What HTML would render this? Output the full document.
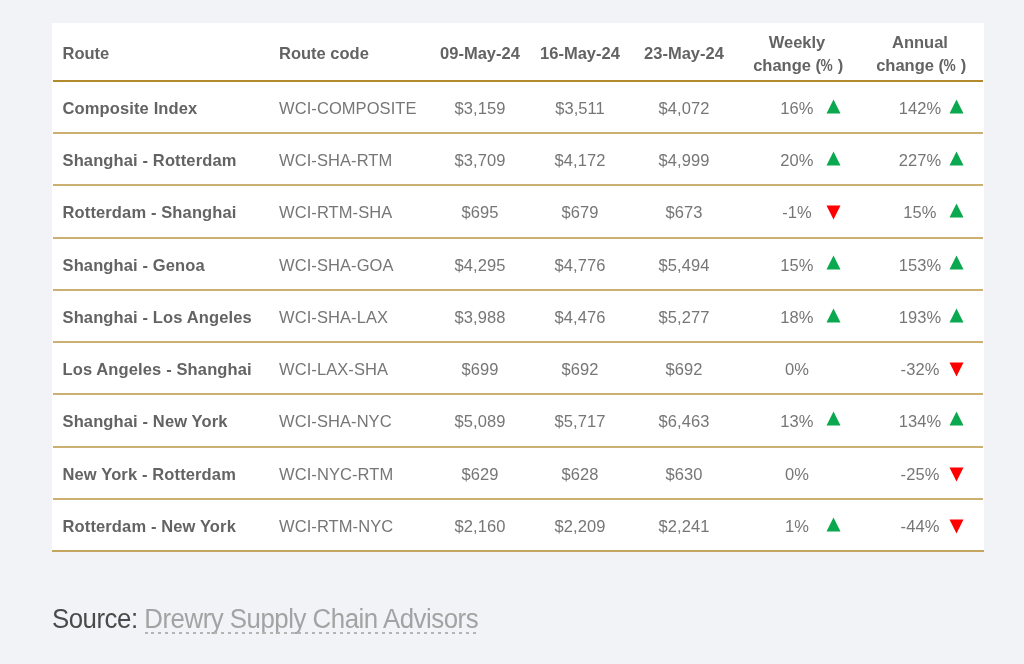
<!DOCTYPE html>
<html><head><meta charset="utf-8"><style>
html,body{margin:0;padding:0;}
body{width:1024px;height:664px;background:#f2f3f7;position:relative;overflow:hidden;font-family:"Liberation Sans",sans-serif;}
.box{position:absolute;left:52px;top:23px;width:932px;height:529px;background:#fff;}
.hl{position:absolute;left:53px;width:930px;height:2px;background:#b38a2b;}
.rl{position:absolute;left:53px;width:930px;height:2px;background:#cbb072;}
.bl{position:absolute;left:52px;width:932px;height:2px;background:#c5a460;}
.h{position:absolute;font-weight:bold;font-size:16.5px;line-height:20px;color:#636363;white-space:nowrap;}
.n{position:absolute;font-weight:bold;font-size:16.5px;line-height:20px;color:#636363;white-space:nowrap;letter-spacing:0.13px;}
.d{position:absolute;font-size:16.5px;line-height:20px;color:#767676;white-space:nowrap;letter-spacing:0.08px;}
.c{width:200px;text-align:center;}
.t{position:absolute;}
.src{position:absolute;left:52px;top:602.7px;font-size:27px;line-height:32px;color:#4a4a4a;letter-spacing:-0.5px;white-space:nowrap;transform:scaleX(0.956);transform-origin:0 0;}
.src span{color:#a3a3a3;}
.ul{position:absolute;left:145px;top:632px;width:335px;height:2px;background:repeating-linear-gradient(90deg,#b4b4b4 0 3px,transparent 3px 7px);background-position:6px 0;}
</style></head><body>
<div id="w" style="position:absolute;left:0;top:0;width:1024px;height:664px;will-change:transform">
<div class="box"></div>

<div class="h" style="left:62.5px;top:43.48px">Route</div>
<div class="h" style="left:279px;top:43.48px">Route code</div>
<div class="h c" style="left:380px;top:43.48px">09-May-24</div>
<div class="h c" style="left:480px;top:43.48px">16-May-24</div>
<div class="h c" style="left:584px;top:43.48px">23-May-24</div>
<div class="h c" style="left:697px;top:31.28px;line-height:22.5px">Weekly<br><span style="position:relative;left:1.2px">change (<span style="display:inline-block;transform:scaleX(.83);transform-origin:100% 50%;margin-left:-2.6px">%</span> )</span></div>
<div class="h c" style="left:820px;top:31.28px;line-height:22.5px">Annual<br><span style="position:relative;left:1.2px">change (<span style="display:inline-block;transform:scaleX(.83);transform-origin:100% 50%;margin-left:-2.6px">%</span> )</span></div>
<div class="hl" style="top:80px"></div>
<div class="n" style="left:62.5px;top:98.08px">Composite Index</div>
<div class="d" style="left:279px;top:98.08px">WCI-COMPOSITE</div>
<div class="d c" style="left:380px;top:98.08px">$3,159</div>
<div class="d c" style="left:480px;top:98.08px">$3,511</div>
<div class="d c" style="left:584px;top:98.08px">$4,072</div>
<div class="d c" style="left:697px;top:98.08px">16%</div>
<div class="d c" style="left:820px;top:98.08px">142%</div>
<svg class="t" style="left:826px;top:98.8px" width="15" height="15" viewBox="0 0 15 15"><path d="M7.5 0.5 L14.5 14.5 L0.5 14.5 Z" fill="#0aa84f"/></svg>
<svg class="t" style="left:949px;top:98.8px" width="15" height="15" viewBox="0 0 15 15"><path d="M7.5 0.5 L14.5 14.5 L0.5 14.5 Z" fill="#0aa84f"/></svg>
<div class="rl" style="top:132.22px"></div>
<div class="n" style="left:62.5px;top:150.18px">Shanghai - Rotterdam</div>
<div class="d" style="left:279px;top:150.18px">WCI-SHA-RTM</div>
<div class="d c" style="left:380px;top:150.18px">$3,709</div>
<div class="d c" style="left:480px;top:150.18px">$4,172</div>
<div class="d c" style="left:584px;top:150.18px">$4,999</div>
<div class="d c" style="left:697px;top:150.18px">20%</div>
<div class="d c" style="left:820px;top:150.18px">227%</div>
<svg class="t" style="left:826px;top:150.9px" width="15" height="15" viewBox="0 0 15 15"><path d="M7.5 0.5 L14.5 14.5 L0.5 14.5 Z" fill="#0aa84f"/></svg>
<svg class="t" style="left:949px;top:150.9px" width="15" height="15" viewBox="0 0 15 15"><path d="M7.5 0.5 L14.5 14.5 L0.5 14.5 Z" fill="#0aa84f"/></svg>
<div class="rl" style="top:184.44px"></div>
<div class="n" style="left:62.5px;top:202.28px">Rotterdam - Shanghai</div>
<div class="d" style="left:279px;top:202.28px">WCI-RTM-SHA</div>
<div class="d c" style="left:380px;top:202.28px">$695</div>
<div class="d c" style="left:480px;top:202.28px">$679</div>
<div class="d c" style="left:584px;top:202.28px">$673</div>
<div class="d c" style="left:697px;top:202.28px">-1%</div>
<div class="d c" style="left:820px;top:202.28px">15%</div>
<svg class="t" style="left:826px;top:205.1px" width="15" height="15" viewBox="0 0 15 15"><path d="M0.5 0.5 L14.5 0.5 L7.5 14.5 Z" fill="#ff0000"/></svg>
<svg class="t" style="left:949px;top:203.0px" width="15" height="15" viewBox="0 0 15 15"><path d="M7.5 0.5 L14.5 14.5 L0.5 14.5 Z" fill="#0aa84f"/></svg>
<div class="rl" style="top:236.66px"></div>
<div class="n" style="left:62.5px;top:254.53px">Shanghai - Genoa</div>
<div class="d" style="left:279px;top:254.53px">WCI-SHA-GOA</div>
<div class="d c" style="left:380px;top:254.53px">$4,295</div>
<div class="d c" style="left:480px;top:254.53px">$4,776</div>
<div class="d c" style="left:584px;top:254.53px">$5,494</div>
<div class="d c" style="left:697px;top:254.53px">15%</div>
<div class="d c" style="left:820px;top:254.53px">153%</div>
<svg class="t" style="left:826px;top:255.25px" width="15" height="15" viewBox="0 0 15 15"><path d="M7.5 0.5 L14.5 14.5 L0.5 14.5 Z" fill="#0aa84f"/></svg>
<svg class="t" style="left:949px;top:255.25px" width="15" height="15" viewBox="0 0 15 15"><path d="M7.5 0.5 L14.5 14.5 L0.5 14.5 Z" fill="#0aa84f"/></svg>
<div class="rl" style="top:288.88px"></div>
<div class="n" style="left:62.5px;top:306.88px">Shanghai - Los Angeles</div>
<div class="d" style="left:279px;top:306.88px">WCI-SHA-LAX</div>
<div class="d c" style="left:380px;top:306.88px">$3,988</div>
<div class="d c" style="left:480px;top:306.88px">$4,476</div>
<div class="d c" style="left:584px;top:306.88px">$5,277</div>
<div class="d c" style="left:697px;top:306.88px">18%</div>
<div class="d c" style="left:820px;top:306.88px">193%</div>
<svg class="t" style="left:826px;top:307.6px" width="15" height="15" viewBox="0 0 15 15"><path d="M7.5 0.5 L14.5 14.5 L0.5 14.5 Z" fill="#0aa84f"/></svg>
<svg class="t" style="left:949px;top:307.6px" width="15" height="15" viewBox="0 0 15 15"><path d="M7.5 0.5 L14.5 14.5 L0.5 14.5 Z" fill="#0aa84f"/></svg>
<div class="rl" style="top:341.10px"></div>
<div class="n" style="left:62.5px;top:358.78px">Los Angeles - Shanghai</div>
<div class="d" style="left:279px;top:358.78px">WCI-LAX-SHA</div>
<div class="d c" style="left:380px;top:358.78px">$699</div>
<div class="d c" style="left:480px;top:358.78px">$692</div>
<div class="d c" style="left:584px;top:358.78px">$692</div>
<div class="d c" style="left:697px;top:358.78px">0%</div>
<div class="d c" style="left:820px;top:358.78px">-32%</div>
<svg class="t" style="left:949px;top:361.6px" width="15" height="15" viewBox="0 0 15 15"><path d="M0.5 0.5 L14.5 0.5 L7.5 14.5 Z" fill="#ff0000"/></svg>
<div class="rl" style="top:393.32px"></div>
<div class="n" style="left:62.5px;top:410.68px">Shanghai - New York</div>
<div class="d" style="left:279px;top:410.68px">WCI-SHA-NYC</div>
<div class="d c" style="left:380px;top:410.68px">$5,089</div>
<div class="d c" style="left:480px;top:410.68px">$5,717</div>
<div class="d c" style="left:584px;top:410.68px">$6,463</div>
<div class="d c" style="left:697px;top:410.68px">13%</div>
<div class="d c" style="left:820px;top:410.68px">134%</div>
<svg class="t" style="left:826px;top:411.4px" width="15" height="15" viewBox="0 0 15 15"><path d="M7.5 0.5 L14.5 14.5 L0.5 14.5 Z" fill="#0aa84f"/></svg>
<svg class="t" style="left:949px;top:411.4px" width="15" height="15" viewBox="0 0 15 15"><path d="M7.5 0.5 L14.5 14.5 L0.5 14.5 Z" fill="#0aa84f"/></svg>
<div class="rl" style="top:445.54px"></div>
<div class="n" style="left:62.5px;top:463.98px">New York - Rotterdam</div>
<div class="d" style="left:279px;top:463.98px">WCI-NYC-RTM</div>
<div class="d c" style="left:380px;top:463.98px">$629</div>
<div class="d c" style="left:480px;top:463.98px">$628</div>
<div class="d c" style="left:584px;top:463.98px">$630</div>
<div class="d c" style="left:697px;top:463.98px">0%</div>
<div class="d c" style="left:820px;top:463.98px">-25%</div>
<svg class="t" style="left:949px;top:466.8px" width="15" height="15" viewBox="0 0 15 15"><path d="M0.5 0.5 L14.5 0.5 L7.5 14.5 Z" fill="#ff0000"/></svg>
<div class="rl" style="top:497.76px"></div>
<div class="n" style="left:62.5px;top:516.28px">Rotterdam - New York</div>
<div class="d" style="left:279px;top:516.28px">WCI-RTM-NYC</div>
<div class="d c" style="left:380px;top:516.28px">$2,160</div>
<div class="d c" style="left:480px;top:516.28px">$2,209</div>
<div class="d c" style="left:584px;top:516.28px">$2,241</div>
<div class="d c" style="left:697px;top:516.28px">1%</div>
<div class="d c" style="left:820px;top:516.28px">-44%</div>
<svg class="t" style="left:826px;top:517.0px" width="15" height="15" viewBox="0 0 15 15"><path d="M7.5 0.5 L14.5 14.5 L0.5 14.5 Z" fill="#0aa84f"/></svg>
<svg class="t" style="left:949px;top:519.1px" width="15" height="15" viewBox="0 0 15 15"><path d="M0.5 0.5 L14.5 0.5 L7.5 14.5 Z" fill="#ff0000"/></svg>
<div class="bl" style="top:550px"></div>
<div class="src">Source: <span>Drewry Supply Chain Advisors</span></div><div class="ul"></div>
</div></body></html>
